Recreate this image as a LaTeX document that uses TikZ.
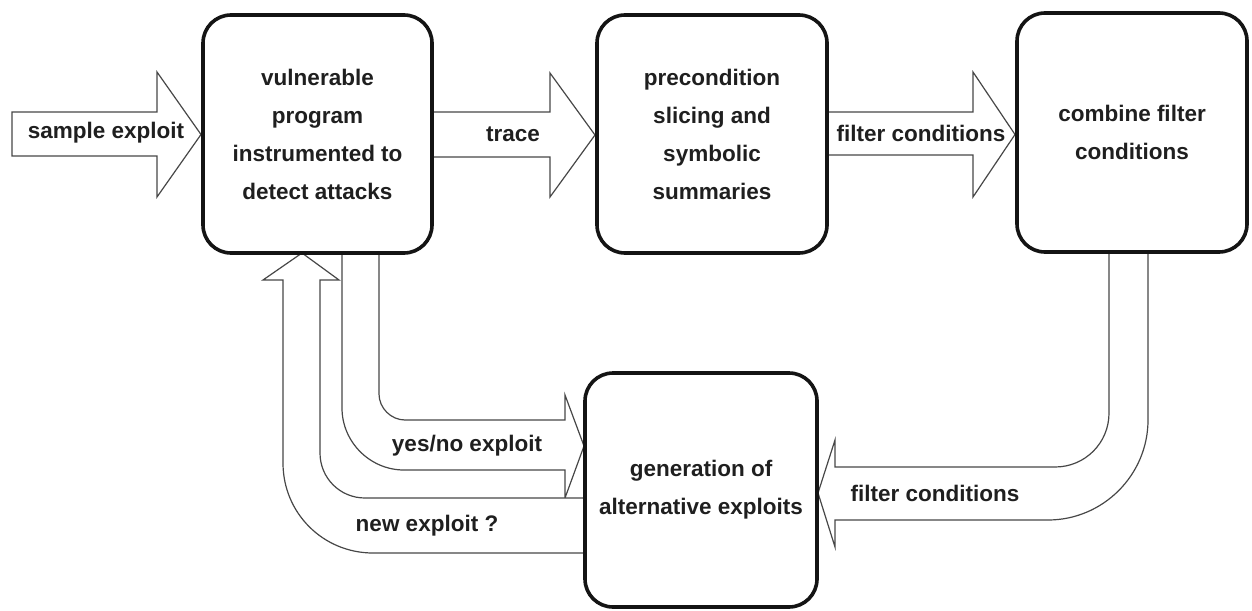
\documentclass[tikz,border=0pt]{standalone}
\usepackage{fontspec}
\setmainfont{Liberation Sans}
\begin{document}
\begin{tikzpicture}[x=1pt,y=-1pt,
  txt/.style={font=\fontsize{22.5}{38}\selectfont\bfseries, text=black!88, align=center},
  box/.style={txt, draw=black!92, line width=3.6pt, rounded corners=28pt, fill=white, inner sep=0pt},
  blk/.style={draw=black!72, line width=1.2pt, fill=white, line join=miter},
  lbl/.style={txt, inner sep=0pt}]
\useasboundingbox (0,0) rectangle (1252,610);

% block arrows (drawn first, boxes on top)
% sample exploit
\coordinate (se0) at (12,134);
\draw[blk] (12,112) -- (157,112) -- (157,72) -- (201,134.5) -- (157,197) -- (157,156) -- (12,156) -- cycle;
% trace
\draw[blk] (432,112) -- (550,112) -- (550,73) -- (595,135) -- (550,197) -- (550,157) -- (432,157) -- cycle;
% filter conditions (top)
\draw[blk] (827,112) -- (973,112) -- (973,72) -- (1015,134.5) -- (973,197) -- (973,155) -- (827,155) -- cycle;
% filter conditions (bottom)
\draw[blk] (1109,252) -- (1109,413) .. controls (1109,443) and (1085,467) .. (1055,467)
  -- (835,467) -- (835,440) -- (818,493) -- (835,547) -- (835,520)
  -- (1048,520) .. controls (1103,520) and (1148,475) .. (1148,420) -- (1148,252) -- cycle;
% yes/no exploit
\draw[blk] (342,253) -- (342,408) .. controls (342,442) and (370,470) .. (404,470)
  -- (565,470) -- (565,498) -- (584,446) -- (565,395) -- (565,420)
  -- (405,420) .. controls (391,420) and (379,408) .. (379,394) -- (379,253) -- cycle;
% new exploit ?
\draw[blk] (585,498) -- (365,498) .. controls (340,498) and (320,478) .. (320,453)
  -- (320,280) -- (339,280) -- (302,253) -- (263,280) -- (283,280)
  -- (283,463) .. controls (283,513) and (323,553) .. (373,553) -- (585,553) -- cycle;

% boxes
\node[box, minimum width=229pt, minimum height=238pt] (A) at (317.5,134)
  {vulnerable\\program\\instrumented to\\detect attacks};
\node[box, minimum width=230pt, minimum height=238pt] (B) at (712,134)
  {precondition\\slicing and\\symbolic\\summaries};
\node[box, minimum width=230pt, minimum height=239pt] (C) at (1132,132.5)
  {combine filter\\conditions};
\node[box, minimum width=232pt, minimum height=234pt] (D) at (701,490)
  {generation of\\alternative exploits};

% arrow labels
\node[lbl] (lse) at (106,133) {sample exploit};
\node[lbl] (ltr) at (513,134) {trace};
\node[lbl] (lf1) at (921,133) {filter conditions};
\node[lbl] (lf2) at (935,493) {filter conditions};
\node[lbl] (lyn) at (467,446) {yes/no exploit};
\node[lbl] (lne) at (427,526) {new exploit ?};
\end{tikzpicture}
\end{document}
